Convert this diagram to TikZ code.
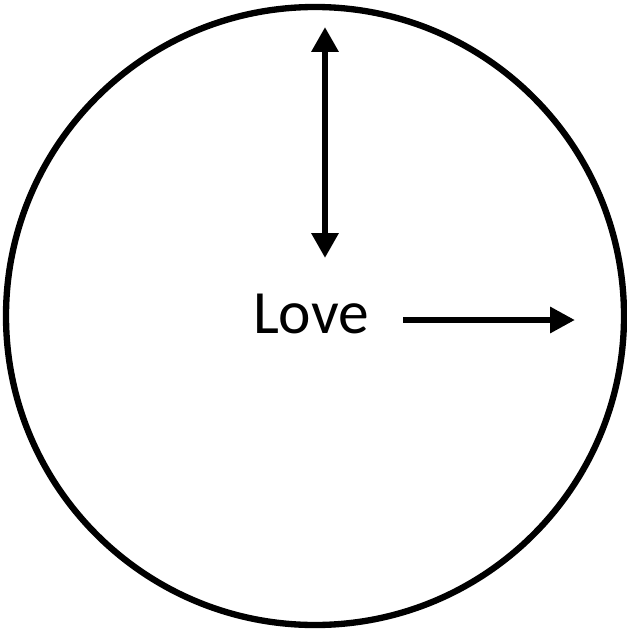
\documentclass[tikz,border=0pt]{standalone}
\usepackage{fontspec}
\setmainfont{Carlito}
\usetikzlibrary{arrows.meta, positioning, calc}
\tikzset{
  dial/.style={
    circle, draw=black, line width=3.6pt,
    minimum size=12.36cm, inner sep=0pt
  },
  word/.style={
    font=\fontsize{35}{40}\selectfont, inner sep=0pt
  },
  hand/.style={line width=3.8pt, draw=black},
  arrow/.style={hand, -{Triangle[width=0.5cm, length=0.5cm]}},
  darrow/.style={hand, {Triangle[width=0.52cm, length=0.5cm]}-{Triangle[width=0.52cm, length=0.5cm]}}
}

\begin{document}
\begin{tikzpicture}
  \useasboundingbox (0,0) rectangle (12.52,-12.62);
  \node[dial] (clock) at (6.30,-6.32) {};
  \node[word, anchor=base] (love) at (6.22,-6.66) {Love};

  \coordinate (up) at (6.50,-0.54);
  \coordinate (down) at (6.50,-5.16);
  \coordinate (start) at (8.06,-6.40);
  \coordinate (point) at (11.50,-6.40);

  \draw[darrow] (up) -- (down);
  \draw[arrow] (start) -- (point);
\end{tikzpicture}
\end{document}
